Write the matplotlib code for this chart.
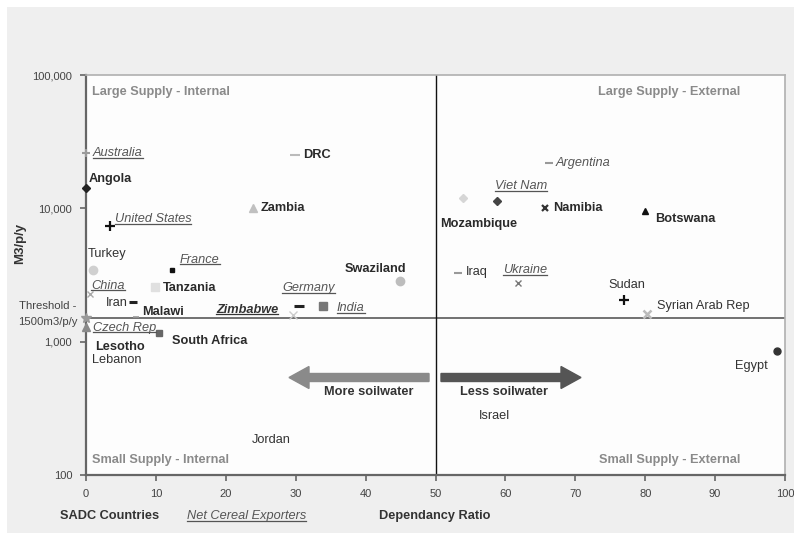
import matplotlib
matplotlib.use('Agg')
import matplotlib.pyplot as plt
from matplotlib import font_manager
from matplotlib.ticker import FixedLocator, FuncFormatter, NullLocator
from matplotlib.patches import Rectangle, FancyArrow
from matplotlib.lines import Line2D


def pick(names):
    for n in names:
        try:
            font_manager.findfont(font_manager.FontProperties(family=n),
                                  fallback_to_default=False)
            return n
        except Exception:
            pass
    return 'DejaVu Sans'


FONT = pick(['Liberation Sans', 'Arial', 'DejaVu Sans'])

# ---------------- data ----------------
countries = ['Australia', 'Angola', 'United States', 'Turkey', 'France', 'DRC',
             'Zambia', 'Swaziland', 'China', 'Tanzania', 'Iran', 'Malawi',
             'Zimbabwe', 'Germany', 'India', 'Czech Rep', 'Lesotho',
             'South Africa', 'Lebanon', 'Mozambique', 'Viet Nam', 'Argentina',
             'Namibia', 'Botswana', 'Iraq', 'Ukraine', 'Sudan',
             'Syrian Arab Rep', 'Egypt', 'Israel', 'Jordan']
dependancy_ratio = [0.0, 0.0, 3.4, 1.0, 12.3, 29.9,
                    23.9, 44.9, 0.6, 9.9, 6.7, 7.2,
                    29.6, 30.5, 33.9, 0.0, 0.0,
                    10.4, 0.9, 53.9, 58.8, 66.2,
                    65.7, 80.0, 53.2, 61.8, 77.0,
                    80.3, 98.9, 56.2, 23.7]
water_m3_per_person = [26000, 14200, 7370, 3450, 3450, 25100,
                       10000, 2850, 2280, 2570, 1985, 1530,
                       1585, 1850, 1850, 1290, 1500,
                       1160, 729, 11950, 11350, 21900,
                       10000, 9550, 3270, 2750, 2050,
                       1610, 851, 277, 183]
# group: 'sadc' = SADC country, 'exp' = net cereal exporter, 'both', 'other'
group = ['exp', 'sadc', 'exp', 'other', 'exp', 'sadc',
         'sadc', 'sadc', 'exp', 'sadc', 'other', 'sadc',
         'both', 'exp', 'exp', 'exp', 'sadc',
         'sadc', 'other', 'sadc', 'exp', 'exp',
         'sadc', 'sadc', 'other', 'exp', 'other',
         'other', 'other', 'other', 'other']
threshold = 1500
split_ratio = 50
x_ticks = [0, 10, 20, 30, 40, 50, 60, 70, 80, 90, 100]
y_ticks = [100, 1000, 10000, 100000]

# ---------------- styles / layout ----------------
marker_style = {
    'Australia': ('+', '#9a9a9a', 6, 1.5),
    'Angola': ('D', '#222222', 4, 1),
    'United States': ('+', '#111111', 7, 1.6),
    'Turkey': ('o', '#d0d0d0', 6, 1),
    'France': ('s', '#111111', 3, 1),
    'DRC': ('_', '#bbbbbb', 7, 1.5),
    'Zambia': ('^', '#c0c0c0', 6, 1),
    'Swaziland': ('o', '#bdbdbd', 6, 1),
    'China': ('x', '#aaaaaa', 5, 1),
    'Tanzania': ('s', '#e0e0e0', 6, 1),
    'Iran': ('_', '#222222', 6, 2.2),
    'Malawi': ('_', '#999999', 4, 1.2),
    'Zimbabwe': ('x', '#cccccc', 6, 1),
    'Germany': ('_', '#222222', 7, 2.2),
    'India': ('s', '#777777', 6, 1),
    'Czech Rep': ('^', '#8a8a8a', 6, 1),
    'Lesotho': ('*', '#9a9a9a', 7, 1),
    'South Africa': ('s', '#666666', 5, 1),
    'Lebanon': ('', '#ffffff', 0, 0),
    'Mozambique': ('D', '#d6d6d6', 4, 1),
    'Viet Nam': ('D', '#444444', 4, 1),
    'Argentina': ('_', '#999999', 6, 1.5),
    'Namibia': ('x', '#333333', 5, 1.6),
    'Botswana': ('^', '#111111', 4, 1),
    'Iraq': ('_', '#999999', 6, 1.5),
    'Ukraine': ('x', '#777777', 5, 1),
    'Sudan': ('+', '#111111', 7, 1.6),
    'Syrian Arab Rep': ('x', '#bbbbbb', 6, 1.8),
    'Egypt': ('o', '#333333', 5, 1),
    'Israel': ('', '#ffffff', 0, 0),
    'Jordan': ('', '#ffffff', 0, 0),
}
label_offset = {  # pixels, (dx, dy) of label's left-centre from marker
    'Australia': (7, 0), 'Angola': (3, 9), 'United States': (5, 7),
    'Turkey': (-5, 16), 'France': (8, 10), 'DRC': (8, 0), 'Zambia': (8, 0),
    'Swaziland': (-55, 12), 'China': (1, 8), 'Tanzania': (8, -1),
    'Iran': (-27, -1), 'Malawi': (6, 5), 'Zimbabwe': (-77, 5),
    'Germany': (-17, 18), 'India': (14, -2), 'Czech Rep': (7, -1),
    'Lesotho': (9, -29), 'South Africa': (13, -8), 'Lebanon': (0, 0),
    'Mozambique': (-23, -26), 'Viet Nam': (-2, 15), 'Argentina': (7, 0),
    'Namibia': (8, 0), 'Botswana': (10, -8), 'Iraq': (8, 1),
    'Ukraine': (-15, 13), 'Sudan': (-16, 15), 'Syrian Arab Rep': (10, 8),
    'Egypt': (-42, -15), 'Israel': (0, 0), 'Jordan': (0, 0),
}

LBL = 9.2   # label font size
TICK = 8.0

W, H = 794, 544


def fx(px):
    return px / W


def fy(py):
    return 1 - py / H


fig = plt.figure(figsize=(W / 100, H / 100), dpi=100, facecolor='white')
fig.patches.append(Rectangle((fx(7), fy(533)), fx(794) - fx(7), fy(7) - fy(533),
                             transform=fig.transFigure, facecolor='#efefef',
                             edgecolor='none', zorder=-10))

ax = fig.add_axes([fx(86), fy(475), fx(785) - fx(86), fy(75) - fy(475)])
ax.set_facecolor('#fdfdfd')
ax.set_yscale('log')
ax.set_xlim(0, 100)
ax.set_ylim(100, 100000)

for side in ['left', 'bottom']:
    ax.spines[side].set_color('#666666')
    ax.spines[side].set_linewidth(1.6)
for side in ['top', 'right']:
    ax.spines[side].set_color('#b0b0b0')
    ax.spines[side].set_linewidth(1.2)

ax.xaxis.set_major_locator(FixedLocator(x_ticks))
ax.yaxis.set_major_locator(FixedLocator(y_ticks))
ax.yaxis.set_minor_locator(NullLocator())
ax.yaxis.set_major_formatter(FuncFormatter(lambda v, p: f'{int(round(v)):,}'))
ax.tick_params(axis='both', direction='out', length=4, width=1.2,
               color='#666666', labelcolor='#444444', labelsize=TICK, pad=6)
for lab in ax.get_xticklabels() + ax.get_yticklabels():
    lab.set_fontfamily(FONT)

ax.axhline(threshold, color='#666666', lw=1.3, zorder=2)
ax.axvline(split_ratio, color='#111111', lw=1.0, zorder=2)

underlined = []
for name, xv, yv, g in zip(countries, dependancy_ratio, water_m3_per_person, group):
    m, c, s, mew = marker_style[name]
    if m:
        ax.plot([xv], [yv], linestyle='none', marker=m, color=c, markersize=s,
                markeredgewidth=mew, clip_on=False, zorder=5)
    dx, dy = label_offset[name]
    if g == 'sadc':
        kw = dict(fontweight='bold', color='#2a2a2a', fontstyle='normal')
    elif g == 'exp':
        kw = dict(fontweight='normal', color='#555555', fontstyle='italic')
    elif g == 'both':
        kw = dict(fontweight='bold', color='#333333', fontstyle='italic')
    else:
        kw = dict(fontweight='normal', color='#333333', fontstyle='normal')
    t = ax.annotate(name, (xv, yv), xytext=(dx, dy), textcoords='offset pixels',
                    ha='left', va='center', fontsize=LBL, family=FONT,
                    annotation_clip=False, zorder=6, **kw)
    if g in ('exp', 'both') and name != 'Argentina':
        underlined.append(t)

# quadrant labels
qkw = dict(fontsize=LBL, fontweight='bold', color='#8a8a8a', family=FONT,
           transform=ax.transAxes, va='center')
ax.text((92 - 86) / 699, (475 - 92) / 400, 'Large Supply - Internal', ha='left', **qkw)
ax.text((740 - 86) / 699, (475 - 92) / 400, 'Large Supply - External', ha='right', **qkw)
ax.text((92 - 86) / 699, (475 - 460) / 400, 'Small Supply - Internal', ha='left', **qkw)
ax.text((740 - 86) / 699, (475 - 460) / 400, 'Small Supply - External', ha='right', **qkw)

# arrows
ay = (475 - 377.5) / 400
ax.add_patch(FancyArrow((429 - 86) / 699, ay, -(429 - 289) / 699, 0,
                        width=8 / 400, head_width=22 / 400, head_length=20 / 699,
                        length_includes_head=True, transform=ax.transAxes,
                        color='#8a8a8a', zorder=4))
ax.add_patch(FancyArrow((441 - 86) / 699, ay, (581 - 441) / 699, 0,
                        width=8 / 400, head_width=22 / 400, head_length=20 / 699,
                        length_includes_head=True, transform=ax.transAxes,
                        color='#555555', zorder=4))
ax.text((369 - 86) / 699, (475 - 392) / 400, 'More soilwater', transform=ax.transAxes,
        ha='center', va='center', fontsize=LBL, fontweight='bold', color='#333333',
        family=FONT)
ax.text((504 - 86) / 699, (475 - 392) / 400, 'Less soilwater', transform=ax.transAxes,
        ha='center', va='center', fontsize=LBL, fontweight='bold', color='#333333',
        family=FONT)

# threshold annotation
fig.text(fx(76), fy(306), 'Threshold -', ha='right', va='center', fontsize=8.2,
         color='#444444', family=FONT)
fig.text(fx(78), fy(322), '1500m3/p/y', ha='right', va='center', fontsize=8.2,
         color='#444444', family=FONT)

# y label
fig.text(fx(20), fy(243), 'M3/p/y', rotation=90, ha='center', va='center',
         fontsize=9.5, fontweight='bold', color='#333333', family=FONT)

# bottom legend-like texts
fig.text(fx(60), fy(516), 'SADC Countries', ha='left', va='center', fontsize=LBL,
         fontweight='bold', color='#333333', family=FONT)
leg = fig.text(fx(187), fy(516), 'Net Cereal Exporters', ha='left', va='center',
               fontsize=LBL, fontstyle='italic', color='#555555', family=FONT)
underlined.append(leg)
fig.text(fx(379), fy(516), 'Dependancy Ratio', ha='left', va='center', fontsize=LBL,
         fontweight='bold', color='#333333', family=FONT)

# underline texts
fig.canvas.draw()
r = fig.canvas.get_renderer()
for t in underlined:
    bb = t.get_window_extent(r)
    yline = bb.y0 + 1.5
    fig.add_artist(Line2D([bb.x0 / W, bb.x1 / W], [yline / H, yline / H],
                          transform=fig.transFigure, color=t.get_color(), lw=0.9))

fig.savefig('out.png', dpi=100, facecolor=fig.get_facecolor())
